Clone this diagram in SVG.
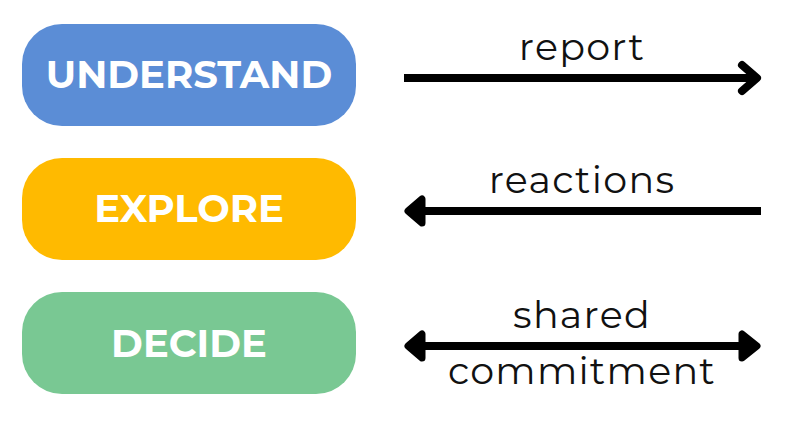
<svg xmlns="http://www.w3.org/2000/svg" width="792" height="430" viewBox="0 0 792 430">
<defs><style>
.n{font-family:Montserrat,"Inter","Liberation Sans",sans-serif;font-weight:700;fill:#fff;text-anchor:middle;font-size:38.500px}
.l{font-family:Montserrat,"Open Sans","Noto Sans",sans-serif;font-weight:400;fill:#111;text-anchor:middle;font-size:38px;letter-spacing:1.300px}
.c{fill:none;stroke:#000;stroke-width:8}
.h{fill:none;stroke:#000;stroke-width:8;stroke-linecap:round;stroke-linejoin:round}
.f{fill:#000;stroke:#000;stroke-width:7;stroke-linejoin:round}
</style></defs>
<rect width="792" height="430" fill="#fff"/>
<g id="understand"><rect x="22" y="24" width="334" height="102" rx="40" fill="#5b8dd6"/><text class="n" x="189" y="88">UNDERSTAND</text></g>
<g id="explore"><rect x="22" y="158" width="334" height="102" rx="40" fill="#ffba00"/><text class="n" x="189" y="222">EXPLORE</text></g>
<g id="decide"><rect x="22" y="292" width="334" height="102" rx="40" fill="#79c893"/><text class="n" x="189" y="357">DECIDE</text></g>
<g id="connectors">
<path class="c" d="M404 78H755"/><path class="h" d="M742 65L757 78L742 91"/>
<path class="c" d="M761 211H420"/><path class="f" d="M408 211L422 199V223Z"/>
<path class="c" d="M420 346H745"/><path class="f" d="M408 346L422 334V358Z"/><path class="f" d="M757 346L742 334V358Z"/>
</g>
<g id="labels">
<text class="l" x="582" y="60">report</text>
<text class="l" x="582" y="193">reactions</text>
<text class="l" x="582" y="328">shared</text>
<text class="l" x="582" y="384">commitment</text>
</g>
</svg>
